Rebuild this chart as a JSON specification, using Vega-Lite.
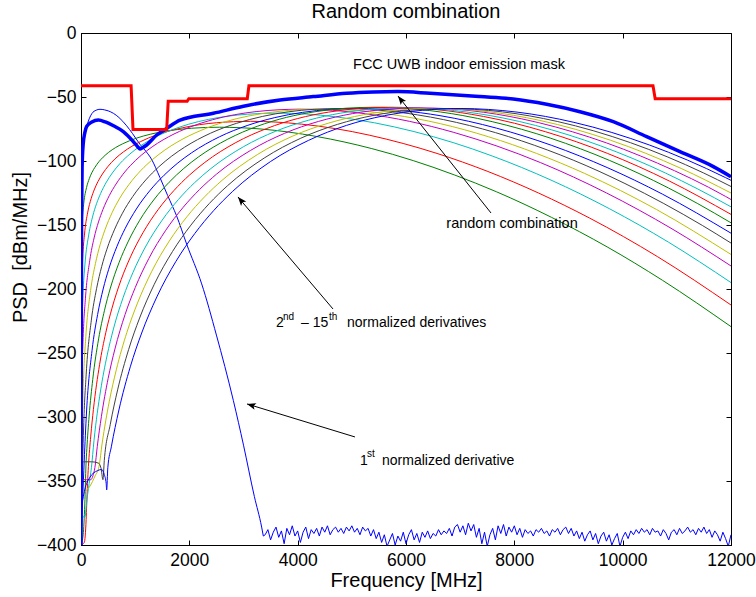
{
"$schema": "https://vega.github.io/schema/vega-lite/v6.json",
"width": 650, "height": 512,
"autosize": {"type": "none"},
"padding": {"left": 81, "top": 33, "right": 25, "bottom": 52},
"background": "white",
"config": {
 "font": "Liberation Sans",
 "view": {"stroke": "black", "strokeWidth": 1},
 "axis": {"grid": false, "domainColor": "black", "tickColor": "black", "labelColor": "black", "titleColor": "black", "labelFont": "Liberation Sans", "titleFont": "Liberation Sans", "labelFontSize": 17.5, "titleFontSize": 20, "titleFontWeight": "normal", "tickSize": -5, "tickWidth": 1, "domainWidth": 1, "labelFlush": false}
},
"title": {"text": "Random combination", "fontSize": 20, "fontWeight": "normal", "font": "Liberation Sans", "color": "black", "offset": 2},
"datasets": {
 "curves": [
{"s":"1st","f":0,"p":-400},{"s":"1st","f":5,"p":-250},{"s":"1st","f":15,"p":-150},{"s":"1st","f":25,"p":-110},{"s":"1st","f":43,"p":-89},{"s":"1st","f":70,"p":-79},{"s":"1st","f":105,"p":-73},{"s":"1st","f":200,"p":-63},{"s":"1st","f":280,"p":-60.3},{"s":"1st","f":351,"p":-59.6},{"s":"1st","f":430,"p":-60},{"s":"1st","f":500,"p":-60.8},{"s":"1st","f":600,"p":-62.8},{"s":"1st","f":700,"p":-66},{"s":"1st","f":843,"p":-72.5},{"s":"1st","f":950,"p":-78.5},{"s":"1st","f":1089,"p":-87},{"s":"1st","f":1200,"p":-92.5},{"s":"1st","f":1300,"p":-98.5},{"s":"1st","f":1458,"p":-113},{"s":"1st","f":1600,"p":-127},{"s":"1st","f":1766,"p":-143},{"s":"1st","f":1951,"p":-165},{"s":"1st","f":2228,"p":-196},{"s":"1st","f":2500,"p":-236},{"s":"1st","f":2812,"p":-287},{"s":"1st","f":3000,"p":-322},{"s":"1st","f":3200,"p":-362},{"s":"1st","f":3335,"p":-386},{"s":"1st","f":3366,"p":-393},
{"s":"2nd","f":0,"p":-400},{"s":"2nd","f":5,"p":-172.9},{"s":"2nd","f":13,"p":-157},{"s":"2nd","f":26,"p":-144.9},{"s":"2nd","f":51,"p":-132.9},{"s":"2nd","f":102,"p":-120.8},{"s":"2nd","f":153,"p":-113.8},{"s":"2nd","f":204,"p":-108.8},{"s":"2nd","f":256,"p":-105},{"s":"2nd","f":332,"p":-100.5},{"s":"2nd","f":409,"p":-97},{"s":"2nd","f":511,"p":-93.2},{"s":"2nd","f":639,"p":-89.5},{"s":"2nd","f":767,"p":-86.6},{"s":"2nd","f":895,"p":-84.2},{"s":"2nd","f":1022,"p":-82.2},{"s":"2nd","f":1278,"p":-79.1},{"s":"2nd","f":1534,"p":-76.9},{"s":"2nd","f":1789,"p":-75.4},{"s":"2nd","f":2045,"p":-74.4},{"s":"2nd","f":2300,"p":-73.8},{"s":"2nd","f":2556,"p":-73.6},{"s":"2nd","f":2939,"p":-74},{"s":"2nd","f":3323,"p":-75},{"s":"2nd","f":3834,"p":-77.4},{"s":"2nd","f":4345,"p":-80.8},{"s":"2nd","f":4856,"p":-85.1},{"s":"2nd","f":5368,"p":-90.3},{"s":"2nd","f":6134,"p":-99.7},{"s":"2nd","f":6901,"p":-111},{"s":"2nd","f":7668,"p":-124},{"s":"2nd","f":8690,"p":-144.1},{"s":"2nd","f":9713,"p":-167.1},{"s":"2nd","f":10735,"p":-193.2},{"s":"2nd","f":12000,"p":-229.4},
{"s":"3rd","f":0,"p":-400},{"s":"3rd","f":6,"p":-217.9},{"s":"3rd","f":16,"p":-194},{"s":"3rd","f":31,"p":-176},{"s":"3rd","f":63,"p":-157.9},{"s":"3rd","f":125,"p":-139.9},{"s":"3rd","f":188,"p":-129.3},{"s":"3rd","f":250,"p":-121.9},{"s":"3rd","f":313,"p":-116.1},{"s":"3rd","f":407,"p":-109.4},{"s":"3rd","f":501,"p":-104.1},{"s":"3rd","f":626,"p":-98.4},{"s":"3rd","f":783,"p":-92.9},{"s":"3rd","f":939,"p":-88.5},{"s":"3rd","f":1096,"p":-84.9},{"s":"3rd","f":1252,"p":-81.9},{"s":"3rd","f":1565,"p":-77.3},{"s":"3rd","f":1878,"p":-74},{"s":"3rd","f":2191,"p":-71.6},{"s":"3rd","f":2504,"p":-70.1},{"s":"3rd","f":2817,"p":-69.3},{"s":"3rd","f":3130,"p":-69},{"s":"3rd","f":3600,"p":-69.6},{"s":"3rd","f":4069,"p":-71.2},{"s":"3rd","f":4695,"p":-74.7},{"s":"3rd","f":5321,"p":-79.8},{"s":"3rd","f":5947,"p":-86.3},{"s":"3rd","f":6573,"p":-94.1},{"s":"3rd","f":7512,"p":-108.2},{"s":"3rd","f":8451,"p":-125.1},{"s":"3rd","f":9390,"p":-144.6},{"s":"3rd","f":10642,"p":-174.7},{"s":"3rd","f":12000,"p":-212.5},
{"s":"4th","f":0,"p":-400},{"s":"4th","f":7,"p":-261.2},{"s":"4th","f":18,"p":-229.3},{"s":"4th","f":36,"p":-205.2},{"s":"4th","f":72,"p":-181.2},{"s":"4th","f":145,"p":-157.1},{"s":"4th","f":217,"p":-143},{"s":"4th","f":289,"p":-133.1},{"s":"4th","f":362,"p":-125.4},{"s":"4th","f":470,"p":-116.4},{"s":"4th","f":578,"p":-109.4},{"s":"4th","f":723,"p":-101.8},{"s":"4th","f":904,"p":-94.5},{"s":"4th","f":1085,"p":-88.6},{"s":"4th","f":1265,"p":-83.8},{"s":"4th","f":1446,"p":-79.8},{"s":"4th","f":1808,"p":-73.7},{"s":"4th","f":2169,"p":-69.2},{"s":"4th","f":2531,"p":-66.1},{"s":"4th","f":2892,"p":-64.1},{"s":"4th","f":3254,"p":-63},{"s":"4th","f":3615,"p":-62.6},{"s":"4th","f":4157,"p":-63.3},{"s":"4th","f":4700,"p":-65.5},{"s":"4th","f":5423,"p":-70.2},{"s":"4th","f":6146,"p":-77},{"s":"4th","f":6869,"p":-85.6},{"s":"4th","f":7592,"p":-96.1},{"s":"4th","f":8676,"p":-114.9},{"s":"4th","f":9761,"p":-137.4},{"s":"4th","f":10845,"p":-163.4},{"s":"4th","f":12000,"p":-195},
{"s":"5th","f":0,"p":-400},{"s":"5th","f":8,"p":-307.7},{"s":"5th","f":20,"p":-267.9},{"s":"5th","f":40,"p":-237.8},{"s":"5th","f":81,"p":-207.7},{"s":"5th","f":162,"p":-177.6},{"s":"5th","f":242,"p":-160.1},{"s":"5th","f":323,"p":-147.6},{"s":"5th","f":404,"p":-138},{"s":"5th","f":525,"p":-126.8},{"s":"5th","f":647,"p":-118},{"s":"5th","f":808,"p":-108.6},{"s":"5th","f":1010,"p":-99.4},{"s":"5th","f":1212,"p":-92.1},{"s":"5th","f":1414,"p":-86.1},{"s":"5th","f":1616,"p":-81.1},{"s":"5th","f":2021,"p":-73.3},{"s":"5th","f":2425,"p":-67.8},{"s":"5th","f":2829,"p":-63.9},{"s":"5th","f":3233,"p":-61.4},{"s":"5th","f":3637,"p":-60},{"s":"5th","f":4041,"p":-59.5},{"s":"5th","f":4647,"p":-60.4},{"s":"5th","f":5253,"p":-63.1},{"s":"5th","f":6062,"p":-69},{"s":"5th","f":6870,"p":-77.5},{"s":"5th","f":7678,"p":-88.3},{"s":"5th","f":8486,"p":-101.3},{"s":"5th","f":9698,"p":-124.9},{"s":"5th","f":10911,"p":-153},{"s":"5th","f":12000,"p":-182},
{"s":"6th","f":0,"p":-400},{"s":"6th","f":13,"p":-336.2},{"s":"6th","f":27,"p":-300.1},{"s":"6th","f":44,"p":-273.5},{"s":"6th","f":89,"p":-237.3},{"s":"6th","f":177,"p":-201.2},{"s":"6th","f":266,"p":-180.2},{"s":"6th","f":354,"p":-165.2},{"s":"6th","f":443,"p":-153.7},{"s":"6th","f":576,"p":-140.2},{"s":"6th","f":708,"p":-129.6},{"s":"6th","f":885,"p":-118.4},{"s":"6th","f":1107,"p":-107.3},{"s":"6th","f":1328,"p":-98.6},{"s":"6th","f":1549,"p":-91.4},{"s":"6th","f":1771,"p":-85.4},{"s":"6th","f":2214,"p":-76.1},{"s":"6th","f":2656,"p":-69.4},{"s":"6th","f":3099,"p":-64.8},{"s":"6th","f":3542,"p":-61.8},{"s":"6th","f":3984,"p":-60},{"s":"6th","f":4427,"p":-59.5},{"s":"6th","f":5091,"p":-60.6},{"s":"6th","f":5755,"p":-63.8},{"s":"6th","f":6641,"p":-70.9},{"s":"6th","f":7526,"p":-81.1},{"s":"6th","f":8411,"p":-94.1},{"s":"6th","f":9297,"p":-109.7},{"s":"6th","f":10625,"p":-137.9},{"s":"6th","f":12000,"p":-173},
{"s":"7th","f":0,"p":-400},{"s":"7th","f":32,"p":-333.9},{"s":"7th","f":48,"p":-308.6},{"s":"7th","f":96,"p":-266.5},{"s":"7th","f":191,"p":-224.3},{"s":"7th","f":287,"p":-199.8},{"s":"7th","f":383,"p":-182.3},{"s":"7th","f":478,"p":-168.9},{"s":"7th","f":622,"p":-153.2},{"s":"7th","f":765,"p":-140.8},{"s":"7th","f":956,"p":-127.7},{"s":"7th","f":1196,"p":-114.8},{"s":"7th","f":1435,"p":-104.6},{"s":"7th","f":1674,"p":-96.2},{"s":"7th","f":1913,"p":-89.2},{"s":"7th","f":2391,"p":-78.3},{"s":"7th","f":2869,"p":-70.6},{"s":"7th","f":3347,"p":-65.2},{"s":"7th","f":3826,"p":-61.6},{"s":"7th","f":4304,"p":-59.6},{"s":"7th","f":4782,"p":-59},{"s":"7th","f":5499,"p":-60.3},{"s":"7th","f":6217,"p":-64},{"s":"7th","f":7173,"p":-72.3},{"s":"7th","f":8129,"p":-84.2},{"s":"7th","f":9086,"p":-99.3},{"s":"7th","f":10042,"p":-117.6},{"s":"7th","f":11477,"p":-150.5},{"s":"7th","f":12000,"p":-164.1},
{"s":"8th","f":0,"p":-400},{"s":"8th","f":59,"p":-334.6},{"s":"8th","f":102,"p":-296.1},{"s":"8th","f":204,"p":-248},{"s":"8th","f":307,"p":-219.9},{"s":"8th","f":409,"p":-200},{"s":"8th","f":511,"p":-184.6},{"s":"8th","f":665,"p":-166.6},{"s":"8th","f":818,"p":-152.5},{"s":"8th","f":1022,"p":-137.5},{"s":"8th","f":1278,"p":-122.8},{"s":"8th","f":1534,"p":-111.1},{"s":"8th","f":1789,"p":-101.5},{"s":"8th","f":2045,"p":-93.5},{"s":"8th","f":2556,"p":-81.1},{"s":"8th","f":3067,"p":-72.3},{"s":"8th","f":3578,"p":-66.1},{"s":"8th","f":4090,"p":-62},{"s":"8th","f":4601,"p":-59.7},{"s":"8th","f":5112,"p":-59},{"s":"8th","f":5879,"p":-60.5},{"s":"8th","f":6646,"p":-64.7},{"s":"8th","f":7668,"p":-74.3},{"s":"8th","f":8690,"p":-87.8},{"s":"8th","f":9713,"p":-105.1},{"s":"8th","f":10735,"p":-125.9},{"s":"8th","f":12000,"p":-156.4},
{"s":"9th","f":0,"p":-400},{"s":"9th","f":40,"p":-392},{"s":"9th","f":70,"p":-368},{"s":"9th","f":92,"p":-337.5},{"s":"9th","f":108,"p":-324.8},{"s":"9th","f":150,"p":-299.3},{"s":"9th","f":217,"p":-270.6},{"s":"9th","f":325,"p":-239},{"s":"9th","f":434,"p":-216.6},{"s":"9th","f":542,"p":-199.3},{"s":"9th","f":705,"p":-179.1},{"s":"9th","f":868,"p":-163.2},{"s":"9th","f":1084,"p":-146.3},{"s":"9th","f":1356,"p":-129.7},{"s":"9th","f":1627,"p":-116.6},{"s":"9th","f":1898,"p":-105.8},{"s":"9th","f":2169,"p":-96.8},{"s":"9th","f":2711,"p":-82.9},{"s":"9th","f":3253,"p":-72.9},{"s":"9th","f":3795,"p":-65.9},{"s":"9th","f":4338,"p":-61.4},{"s":"9th","f":4880,"p":-58.8},{"s":"9th","f":5422,"p":-58},{"s":"9th","f":6235,"p":-59.7},{"s":"9th","f":7049,"p":-64.5},{"s":"9th","f":8133,"p":-75.2},{"s":"9th","f":9217,"p":-90.4},{"s":"9th","f":10302,"p":-109.8},{"s":"9th","f":11386,"p":-133.3},{"s":"9th","f":12000,"p":-148.3},
{"s":"10th","f":0,"p":-400},{"s":"10th","f":60,"p":-398},{"s":"10th","f":95,"p":-380},{"s":"10th","f":105,"p":-369},{"s":"10th","f":120,"p":-352},{"s":"10th","f":137,"p":-338.6},{"s":"10th","f":180,"p":-314.9},{"s":"10th","f":229,"p":-294.2},{"s":"10th","f":343,"p":-259.1},{"s":"10th","f":457,"p":-234.2},{"s":"10th","f":572,"p":-215},{"s":"10th","f":743,"p":-192.5},{"s":"10th","f":914,"p":-174.9},{"s":"10th","f":1143,"p":-156.1},{"s":"10th","f":1429,"p":-137.7},{"s":"10th","f":1715,"p":-123.1},{"s":"10th","f":2000,"p":-111.1},{"s":"10th","f":2286,"p":-101.1},{"s":"10th","f":2858,"p":-85.6},{"s":"10th","f":3429,"p":-74.6},{"s":"10th","f":4001,"p":-66.8},{"s":"10th","f":4572,"p":-61.8},{"s":"10th","f":5144,"p":-58.9},{"s":"10th","f":5715,"p":-58},{"s":"10th","f":6572,"p":-59.9},{"s":"10th","f":7430,"p":-65.2},{"s":"10th","f":8573,"p":-77.1},{"s":"10th","f":9716,"p":-94},{"s":"10th","f":10859,"p":-115.6},{"s":"10th","f":12000,"p":-141.7},
{"s":"11th","f":0,"p":-395},{"s":"11th","f":20,"p":-378},{"s":"11th","f":74,"p":-378},{"s":"11th","f":100,"p":-368},{"s":"11th","f":150,"p":-352},{"s":"11th","f":192,"p":-339.7},{"s":"11th","f":240,"p":-318.3},{"s":"11th","f":360,"p":-279.7},{"s":"11th","f":480,"p":-252.3},{"s":"11th","f":599,"p":-231.2},{"s":"11th","f":779,"p":-206.5},{"s":"11th","f":959,"p":-187.1},{"s":"11th","f":1199,"p":-166.4},{"s":"11th","f":1499,"p":-146.2},{"s":"11th","f":1798,"p":-130.1},{"s":"11th","f":2098,"p":-116.9},{"s":"11th","f":2398,"p":-105.9},{"s":"11th","f":2997,"p":-88.9},{"s":"11th","f":3596,"p":-76.7},{"s":"11th","f":4196,"p":-68.2},{"s":"11th","f":4795,"p":-62.6},{"s":"11th","f":5395,"p":-59.5},{"s":"11th","f":5994,"p":-58.5},{"s":"11th","f":6893,"p":-60.6},{"s":"11th","f":7792,"p":-66.4},{"s":"11th","f":8991,"p":-79.5},{"s":"11th","f":10190,"p":-98.1},{"s":"11th","f":11389,"p":-121.9},{"s":"11th","f":12000,"p":-135.8},
{"s":"12th","f":0,"p":-352},{"s":"12th","f":15,"p":-349},{"s":"12th","f":105,"p":-349},{"s":"12th","f":180,"p":-349},{"s":"12th","f":220,"p":-346},{"s":"12th","f":257,"p":-339.4},{"s":"12th","f":300,"p":-323.2},{"s":"12th","f":376,"p":-299.8},{"s":"12th","f":501,"p":-269.9},{"s":"12th","f":626,"p":-246.9},{"s":"12th","f":814,"p":-219.9},{"s":"12th","f":1002,"p":-198.8},{"s":"12th","f":1252,"p":-176.2},{"s":"12th","f":1565,"p":-154.1},{"s":"12th","f":1878,"p":-136.6},{"s":"12th","f":2191,"p":-122.2},{"s":"12th","f":2504,"p":-110.2},{"s":"12th","f":3131,"p":-91.7},{"s":"12th","f":3757,"p":-78.4},{"s":"12th","f":4383,"p":-69.1},{"s":"12th","f":5009,"p":-63},{"s":"12th","f":5635,"p":-59.6},{"s":"12th","f":6261,"p":-58.5},{"s":"12th","f":7200,"p":-60.7},{"s":"12th","f":8139,"p":-67.1},{"s":"12th","f":9392,"p":-81.4},{"s":"12th","f":10644,"p":-101.7},{"s":"12th","f":11896,"p":-127.6},{"s":"12th","f":12000,"p":-130.1},
{"s":"13th","f":0,"p":-360},{"s":"13th","f":20,"p":-360},{"s":"13th","f":80,"p":-358},{"s":"13th","f":166,"p":-354},{"s":"13th","f":260,"p":-346},{"s":"13th","f":332,"p":-338.8},{"s":"13th","f":391,"p":-320.4},{"s":"13th","f":521,"p":-288.1},{"s":"13th","f":652,"p":-263.1},{"s":"13th","f":847,"p":-233.9},{"s":"13th","f":1043,"p":-211},{"s":"13th","f":1303,"p":-186.5},{"s":"13th","f":1629,"p":-162.6},{"s":"13th","f":1955,"p":-143.6},{"s":"13th","f":2281,"p":-128},{"s":"13th","f":2607,"p":-115},{"s":"13th","f":3259,"p":-94.9},{"s":"13th","f":3910,"p":-80.5},{"s":"13th","f":4562,"p":-70.5},{"s":"13th","f":5214,"p":-63.9},{"s":"13th","f":5865,"p":-60.2},{"s":"13th","f":6517,"p":-59},{"s":"13th","f":7495,"p":-61.4},{"s":"13th","f":8472,"p":-68.3},{"s":"13th","f":9776,"p":-83.8},{"s":"13th","f":11079,"p":-105.8},{"s":"13th","f":12000,"p":-125},
{"s":"14th","f":0,"p":-336},{"s":"14th","f":50,"p":-335},{"s":"14th","f":200,"p":-335},{"s":"14th","f":320,"p":-336},{"s":"14th","f":370,"p":-340},{"s":"14th","f":405,"p":-349},{"s":"14th","f":430,"p":-334},{"s":"14th","f":541,"p":-305.7},{"s":"14th","f":676,"p":-278.8},{"s":"14th","f":879,"p":-247.3},{"s":"14th","f":1082,"p":-222.7},{"s":"14th","f":1353,"p":-196.3},{"s":"14th","f":1691,"p":-170.6},{"s":"14th","f":2029,"p":-150.1},{"s":"14th","f":2367,"p":-133.3},{"s":"14th","f":2705,"p":-119.3},{"s":"14th","f":3382,"p":-97.7},{"s":"14th","f":4058,"p":-82.2},{"s":"14th","f":4734,"p":-71.4},{"s":"14th","f":5410,"p":-64.3},{"s":"14th","f":6087,"p":-60.3},{"s":"14th","f":6763,"p":-59},{"s":"14th","f":7777,"p":-61.6},{"s":"14th","f":8792,"p":-69.1},{"s":"14th","f":10145,"p":-85.7},{"s":"14th","f":11497,"p":-109.4},{"s":"14th","f":12000,"p":-119.9},
{"s":"15th","f":0,"p":-372},{"s":"15th","f":43,"p":-362},{"s":"15th","f":80,"p":-355},{"s":"15th","f":166,"p":-347},{"s":"15th","f":300,"p":-342},{"s":"15th","f":381,"p":-341},{"s":"15th","f":430,"p":-345},{"s":"15th","f":465,"p":-352},{"s":"15th","f":474,"p":-357},{"s":"15th","f":495,"p":-339.6},{"s":"15th","f":560,"p":-323.3},{"s":"15th","f":700,"p":-294.5},{"s":"15th","f":910,"p":-260.8},{"s":"15th","f":1120,"p":-234.4},{"s":"15th","f":1400,"p":-206.2},{"s":"15th","f":1750,"p":-178.6},{"s":"15th","f":2100,"p":-156.7},{"s":"15th","f":2450,"p":-138.7},{"s":"15th","f":2800,"p":-123.7},{"s":"15th","f":3500,"p":-100.4},{"s":"15th","f":4200,"p":-83.9},{"s":"15th","f":4900,"p":-72.2},{"s":"15th","f":5600,"p":-64.6},{"s":"15th","f":6300,"p":-60.4},{"s":"15th","f":7000,"p":-59},{"s":"15th","f":8050,"p":-61.8},{"s":"15th","f":9100,"p":-69.8},{"s":"15th","f":10500,"p":-87.6},{"s":"15th","f":11900,"p":-113},{"s":"15th","f":12000,"p":-115.1}
 ],
 "noise": [
{"f":3366,"p":-393},{"f":3400,"p":-392},{"f":3450,"p":-388},{"f":3500,"p":-396},{"f":3550,"p":-390},{"f":3600,"p":-386},{"f":3650,"p":-394},{"f":3700,"p":-389},{"f":3750,"p":-399},{"f":3800,"p":-387},{"f":3850,"p":-392},{"f":3900,"p":-385},{"f":3950,"p":-393},{"f":4000,"p":-389},{"f":4050,"p":-398},{"f":4100,"p":-390},{"f":4150,"p":-386},{"f":4200,"p":-395},{"f":4250,"p":-388},{"f":4300,"p":-391},{"f":4350,"p":-387},{"f":4400,"p":-393},{"f":4450,"p":-386},{"f":4500,"p":-390},{"f":4550,"p":-385},{"f":4600,"p":-392},{"f":4650,"p":-388},{"f":4700,"p":-386},{"f":4750,"p":-390},{"f":4800,"p":-387},{"f":4850,"p":-391},{"f":4900,"p":-386},{"f":4950,"p":-389},{"f":5000,"p":-385},{"f":5050,"p":-390},{"f":5100,"p":-387},{"f":5150,"p":-392},{"f":5200,"p":-386},{"f":5250,"p":-389},{"f":5300,"p":-387},{"f":5350,"p":-393},{"f":5400,"p":-388},{"f":5450,"p":-395},{"f":5500,"p":-390},{"f":5550,"p":-398},{"f":5600,"p":-392},{"f":5650,"p":-401},{"f":5700,"p":-396},{"f":5750,"p":-391},{"f":5800,"p":-400},{"f":5850,"p":-393},{"f":5900,"p":-397},{"f":5950,"p":-390},{"f":6000,"p":-399},{"f":6050,"p":-392},{"f":6100,"p":-388},{"f":6150,"p":-396},{"f":6200,"p":-391},{"f":6250,"p":-398},{"f":6300,"p":-390},{"f":6350,"p":-394},{"f":6400,"p":-389},{"f":6450,"p":-395},{"f":6500,"p":-391},{"f":6550,"p":-393},{"f":6600,"p":-388},{"f":6650,"p":-392},{"f":6700,"p":-389},{"f":6750,"p":-391},{"f":6800,"p":-387},{"f":6850,"p":-393},{"f":6900,"p":-386},{"f":6950,"p":-384},{"f":7000,"p":-390},{"f":7050,"p":-385},{"f":7100,"p":-392},{"f":7150,"p":-383},{"f":7200,"p":-389},{"f":7250,"p":-384},{"f":7300,"p":-394},{"f":7350,"p":-387},{"f":7400,"p":-399},{"f":7450,"p":-390},{"f":7500,"p":-401},{"f":7550,"p":-392},{"f":7600,"p":-387},{"f":7650,"p":-396},{"f":7700,"p":-385},{"f":7750,"p":-391},{"f":7800,"p":-384},{"f":7850,"p":-393},{"f":7900,"p":-386},{"f":7950,"p":-390},{"f":8000,"p":-385},{"f":8050,"p":-392},{"f":8100,"p":-387},{"f":8150,"p":-394},{"f":8200,"p":-388},{"f":8250,"p":-391},{"f":8300,"p":-389},{"f":8350,"p":-393},{"f":8400,"p":-388},{"f":8450,"p":-390},{"f":8500,"p":-387},{"f":8550,"p":-391},{"f":8600,"p":-389},{"f":8650,"p":-393},{"f":8700,"p":-388},{"f":8750,"p":-390},{"f":8800,"p":-387},{"f":8850,"p":-392},{"f":8900,"p":-388},{"f":8950,"p":-386},{"f":9000,"p":-391},{"f":9050,"p":-387},{"f":9100,"p":-393},{"f":9150,"p":-389},{"f":9200,"p":-395},{"f":9250,"p":-390},{"f":9300,"p":-397},{"f":9350,"p":-392},{"f":9400,"p":-389},{"f":9450,"p":-396},{"f":9500,"p":-391},{"f":9550,"p":-399},{"f":9600,"p":-393},{"f":9650,"p":-390},{"f":9700,"p":-397},{"f":9750,"p":-392},{"f":9800,"p":-400},{"f":9850,"p":-395},{"f":9900,"p":-391},{"f":9950,"p":-401},{"f":10000,"p":-394},{"f":10050,"p":-390},{"f":10100,"p":-395},{"f":10150,"p":-389},{"f":10200,"p":-392},{"f":10250,"p":-388},{"f":10300,"p":-391},{"f":10350,"p":-387},{"f":10400,"p":-390},{"f":10450,"p":-388},{"f":10500,"p":-392},{"f":10550,"p":-387},{"f":10600,"p":-390},{"f":10650,"p":-389},{"f":10700,"p":-393},{"f":10750,"p":-388},{"f":10800,"p":-391},{"f":10850,"p":-396},{"f":10900,"p":-390},{"f":10950,"p":-388},{"f":11000,"p":-392},{"f":11050,"p":-387},{"f":11100,"p":-391},{"f":11150,"p":-389},{"f":11200,"p":-386},{"f":11250,"p":-390},{"f":11300,"p":-388},{"f":11350,"p":-392},{"f":11400,"p":-387},{"f":11450,"p":-390},{"f":11500,"p":-386},{"f":11550,"p":-391},{"f":11600,"p":-388},{"f":11650,"p":-394},{"f":11700,"p":-389},{"f":11750,"p":-392},{"f":11800,"p":-397},{"f":11850,"p":-390},{"f":11900,"p":-395},{"f":11950,"p":-401},{"f":12000,"p":-392}
 ],
 "combo": [
{"f":0,"p":-400},{"f":4,"p":-250},{"f":10,"p":-150},{"f":20,"p":-105},{"f":40,"p":-87},{"f":70,"p":-78},{"f":105,"p":-73},{"f":200,"p":-69.5},{"f":320,"p":-68},{"f":450,"p":-69.5},{"f":600,"p":-72.5},{"f":781,"p":-77.1},{"f":966,"p":-84.9},{"f":1050,"p":-89},{"f":1089,"p":-90.6},{"f":1130,"p":-89.8},{"f":1212,"p":-87.5},{"f":1397,"p":-79.7},{"f":1582,"p":-74.5},{"f":1828,"p":-68},{"f":2443,"p":-62.7},{"f":3000,"p":-57.2},{"f":3674,"p":-52.3},{"f":4289,"p":-49.7},{"f":4904,"p":-47.1},{"f":5400,"p":-46.1},{"f":5850,"p":-45.8},{"f":6443,"p":-47.1},{"f":7366,"p":-49.7},{"f":7980,"p":-51.6},{"f":8596,"p":-55.7},{"f":9212,"p":-61.5},{"f":9827,"p":-69.3},{"f":10443,"p":-81},{"f":11058,"p":-92.7},{"f":11674,"p":-104.4},{"f":12000,"p":-112.3}
 ],
 "mask": [
{"f":0,"p":-41.3},{"f":925,"p":-41.3},{"f":960,"p":-75.3},{"f":1582,"p":-75.3},{"f":1610,"p":-53.3},{"f":1960,"p":-53.3},{"f":1990,"p":-51.3},{"f":3070,"p":-51.3},{"f":3100,"p":-41.3},{"f":10560,"p":-41.3},{"f":10600,"p":-51.3},{"f":12000,"p":-51.3}
 ],
 "arrows": [
{"a":"combo","f":7569,"p":-140.6,"f2":5852,"p2":-49.2},
{"a":"deriv","f":4652,"p":-215.6,"f2":2898,"p2":-128.1},
{"a":"first","f":5058,"p":-315.6,"f2":3065,"p2":-289.8}
 ],
 "labels": [
{"t":"FCC UWB indoor emission mask","f":6978,"p":-25,"k":"c"},
{"t":"random combination","f":7957,"p":-149.2,"k":"c"},
{"t":"2","f":3600,"p":-226.6,"k":"l"},
{"t":"nd","f":3729,"p":-221.6,"k":"s"},
{"t":"– 15","f":4062,"p":-226.6,"k":"l"},
{"t":"th","f":4578,"p":-221.6,"k":"s"},
{"t":"normalized derivatives","f":4911,"p":-226.6,"k":"l"},
{"t":"1","f":5151,"p":-334.4,"k":"l"},
{"t":"st","f":5280,"p":-329,"k":"s"},
{"t":"normalized derivative","f":5557,"p":-334.4,"k":"l"}
 ]
},
"layer": [
 {
  "data": {"name": "curves"},
  "mark": {"type": "line", "strokeWidth": 1, "clip": true, "interpolate": "monotone"},
  "encoding": {
   "x": {"field": "f", "type": "quantitative", "scale": {"domain": [0, 12000], "nice": false, "zero": false, "padding": 0},
         "axis": {"orient": "bottom", "values": [0, 2000, 4000, 6000, 8000, 10000, 12000], "format": "d", "labelPadding": 11, "labelFlush": false, "title": "Frequency [MHz]", "titlePadding": 2}},
   "y": {"field": "p", "type": "quantitative", "scale": {"domain": [-400, 0], "nice": false, "zero": false, "padding": 0},
         "axis": {"orient": "left", "values": [-400, -350, -300, -250, -200, -150, -100, -50, 0], "format": "d", "labelPadding": 10, "labelFlush": false, "title": "PSD\u00a0 [dBm/MHz]", "titleAngle": 270, "titleX": -61, "titleY": 214, "titleAlign": "center", "titleBaseline": "middle"}},
   "color": {"field": "s", "type": "nominal", "legend": null,
     "scale": {"domain": ["1st","2nd","3rd","4th","5th","6th","7th","8th","9th","10th","11th","12th","13th","14th","15th"],
               "range": ["#0000FF","#008000","#FF0000","#00BFBF","#BF00BF","#BFBF00","#404040","#0000FF","#008000","#FF0000","#00BFBF","#BF00BF","#BFBF00","#404040","#0000FF"]}}
  }
 },
 {
  "data": {"name": "noise"},
  "mark": {"type": "line", "strokeWidth": 1, "color": "#0000FF", "clip": true},
  "encoding": {
   "x": {"field": "f", "type": "quantitative", "axis": null},
   "y": {"field": "p", "type": "quantitative", "axis": null}
  }
 },
 {
  "data": {"name": "combo"},
  "mark": {"type": "line", "strokeWidth": 3.5, "color": "#0000FF", "clip": true, "interpolate": "monotone"},
  "encoding": {
   "x": {"field": "f", "type": "quantitative", "axis": {"orient": "top", "values": [0, 2000, 4000, 6000, 8000, 10000, 12000], "labels": false, "domain": false, "title": null}},
   "y": {"field": "p", "type": "quantitative", "axis": {"orient": "right", "values": [-400, -350, -300, -250, -200, -150, -100, -50, 0], "labels": false, "domain": false, "title": null}}
  }
 },
 {
  "data": {"name": "mask"},
  "mark": {"type": "line", "strokeWidth": 3, "color": "#FF0000", "clip": true},
  "encoding": {
   "x": {"field": "f", "type": "quantitative", "axis": null},
   "y": {"field": "p", "type": "quantitative", "axis": null}
  }
 },
 {
  "data": {"name": "arrows"},
  "mark": {"type": "rule", "color": "black", "strokeWidth": 1},
  "encoding": {
   "x": {"field": "f", "type": "quantitative", "axis": null},
   "y": {"field": "p", "type": "quantitative", "axis": null},
   "x2": {"field": "f2"},
   "y2": {"field": "p2"}
  }
 },
 {
  "data": {"name": "arrows"},
  "transform": [{"filter": "datum.a === 'combo'"}],
  "mark": {"type": "point", "shape": "M0,0L0.42,1.1L0,0.85L-0.42,1.1Z", "filled": true, "color": "black", "opacity": 1, "size": 260, "angle": 322},
  "encoding": {"x": {"field": "f2", "type": "quantitative", "axis": null}, "y": {"field": "p2", "type": "quantitative", "axis": null}}
 },
 {
  "data": {"name": "arrows"},
  "transform": [{"filter": "datum.a === 'deriv'"}],
  "mark": {"type": "point", "shape": "M0,0L0.42,1.1L0,0.85L-0.42,1.1Z", "filled": true, "color": "black", "opacity": 1, "size": 260, "angle": 320},
  "encoding": {"x": {"field": "f2", "type": "quantitative", "axis": null}, "y": {"field": "p2", "type": "quantitative", "axis": null}}
 },
 {
  "data": {"name": "arrows"},
  "transform": [{"filter": "datum.a === 'first'"}],
  "mark": {"type": "point", "shape": "M0,0L0.42,1.1L0,0.85L-0.42,1.1Z", "filled": true, "color": "black", "opacity": 1, "size": 260, "angle": 287},
  "encoding": {"x": {"field": "f2", "type": "quantitative", "axis": null}, "y": {"field": "p2", "type": "quantitative", "axis": null}}
 },
 {
  "data": {"name": "labels"},
  "transform": [{"filter": "datum.k === 'c'"}],
  "mark": {"type": "text", "fontSize": 14.5, "font": "Liberation Sans", "align": "center", "baseline": "middle", "color": "black"},
  "encoding": {"x": {"field": "f", "type": "quantitative", "axis": null}, "y": {"field": "p", "type": "quantitative", "axis": null}, "text": {"field": "t"}}
 },
 {
  "data": {"name": "labels"},
  "transform": [{"filter": "datum.k === 'l'"}],
  "mark": {"type": "text", "fontSize": 14, "font": "Liberation Sans", "align": "left", "baseline": "middle", "color": "black"},
  "encoding": {"x": {"field": "f", "type": "quantitative", "axis": null}, "y": {"field": "p", "type": "quantitative", "axis": null}, "text": {"field": "t"}}
 },
 {
  "data": {"name": "labels"},
  "transform": [{"filter": "datum.k === 's'"}],
  "mark": {"type": "text", "fontSize": 10, "font": "Liberation Sans", "align": "left", "baseline": "middle", "color": "black"},
  "encoding": {"x": {"field": "f", "type": "quantitative", "axis": null}, "y": {"field": "p", "type": "quantitative", "axis": null}, "text": {"field": "t"}}
 }
]
}
